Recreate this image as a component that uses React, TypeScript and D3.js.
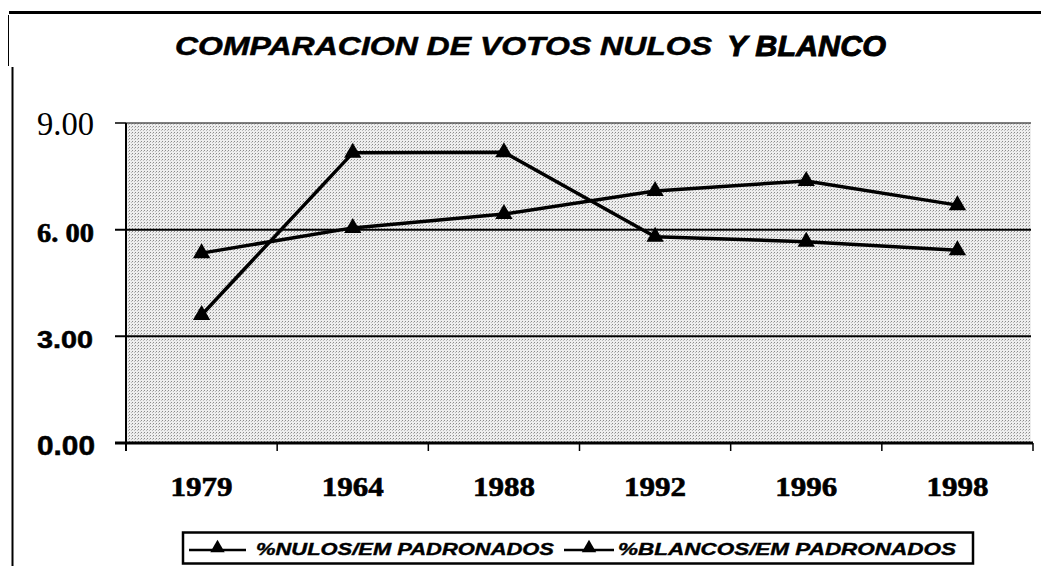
import * as d3 from 'd3';
import React from 'react';

// chart values
const years = ['1979', '1964', '1988', '1992', '1996', '1998'];
const nulos = [5.34, 6.05, 6.44, 7.09, 7.37, 6.69];
const blancos = [3.6, 8.16, 8.18, 5.8, 5.66, 5.42];
const yTicks = [9, 6, 3, 0];
const seriesNames = ['%NULOS/EM PADRONADOS', '%BLANCOS/EM PADRONADOS'];

const W = 1041;
const H = 566;
const plot = {left: 126, right: 1033, top: 123, bottom: 443};

const serif = '"Liberation Serif", "Times New Roman", serif';
const sans = '"Liberation Sans", Arial, sans-serif';
const narrow = '"Liberation Sans Narrow", "Liberation Sans", Arial, sans-serif';

// each y label was set in a different face in the original
const yLabelStyle: {[k: number]: any} = {
  9: {text: '9.00', font: serif, weight: 'normal', size: 33, len: 57, thick: 0},
  6: {text: '6. 00', font: serif, weight: 'bold', size: 27, len: 57, thick: 0.6},
  3: {text: '3.00', font: sans, weight: 'bold', size: 23, len: 56, thick: 0.5},
  0: {text: '0.00', font: narrow, weight: 'bold', size: 27, len: 58, thick: 0.5},
};

const x = d3.scaleBand<string>().domain(years).range([plot.left, plot.right]);
const y = d3.scaleLinear().domain([0, 9]).range([plot.bottom, plot.top]);
const cx = (yr: string) => (x(yr) as number) + x.bandwidth() / 2;

const line = d3.line<number>()
  .x((d, i) => cx(years[i]))
  .y(d => y(d));

const tri = d3.symbol().type(d3.symbolTriangle).size(130)();
const triSmall = d3.symbol().type(d3.symbolTriangle).size(90)();

function Series({values}: {values: number[]}) {
  return (
    <g>
      <path d={line(values) as string} fill="none" stroke="#000" strokeWidth={3.5} strokeLinejoin="round" />
      {values.map((v, i) => (
        <path key={i} d={tri as string} transform={`translate(${cx(years[i])},${y(v)})`} fill="#000" />
      ))}
    </g>
  );
}

export default function App() {
  const boundaries = years.map(yr => x(yr) as number).concat([plot.right]);
  return (
    <svg width={W} height={H} style={{position: 'absolute', left: 0, top: 0, display: 'block', background: '#fff'}}>
      <defs>
        <pattern id="dither" width={3} height={3} patternUnits="userSpaceOnUse">
          <rect width={3} height={3} fill="#eeeeee" />
          <rect x={0} y={0} width={1} height={1} fill="#8a8a8a" />
          <rect x={2} y={1} width={1} height={1} fill="#bbbbbb" />
        </pattern>
      </defs>

      {/* page frame */}
      <line x1={9} x2={W} y1={12.5} y2={12.5} stroke="#000" strokeWidth={3} />
      <line x1={8.5} x2={8.5} y1={15} y2={66} stroke="#000" strokeWidth={1} />
      <line x1={12.5} x2={12.5} y1={67} y2={H} stroke="#000" strokeWidth={2} />

      {/* title */}
      <g fontFamily={sans} fontWeight="bold" fontStyle="italic" stroke="#000" strokeWidth={0.5}>
        <text x={175} y={55} fontSize={25}
          textLength={537} lengthAdjust="spacingAndGlyphs">COMPARACION  DE  VOTOS  NULOS</text>
        <text x={727} y={56} fontSize={29} strokeWidth={0.9}
          textLength={159} lengthAdjust="spacingAndGlyphs">Y BLANCO</text>
      </g>

      {/* plot area */}
      <rect x={plot.left} y={plot.top} width={plot.right - plot.left - 2} height={plot.bottom - plot.top} fill="url(#dither)" />
      <line x1={plot.left} x2={plot.right - 2} y1={plot.top} y2={plot.top} stroke="#555" strokeWidth={1.5} />

      {yTicks.filter(t => t !== 0 && t !== 9).map(t => (
        <line key={t} x1={115} x2={plot.right - 2} y1={y(t)} y2={y(t)} stroke="#000" strokeWidth={2} />
      ))}
      <line x1={115} x2={plot.left} y1={y(9)} y2={y(9)} stroke="#000" strokeWidth={1.5} />

      <line x1={plot.left} x2={plot.left} y1={plot.top} y2={plot.bottom + 8} stroke="#000" strokeWidth={2} />
      <line x1={115} x2={plot.right} y1={plot.bottom} y2={plot.bottom} stroke="#000" strokeWidth={3} />
      {boundaries.slice(1).map((b, i) => (
        <line key={i} x1={b} x2={b} y1={plot.bottom} y2={plot.bottom + 8} stroke="#000" strokeWidth={1.5} />
      ))}

      {yTicks.map(t => {
        const s = yLabelStyle[t];
        return (
          <text key={t} x={37} y={y(t) + 12} fontFamily={s.font} fontWeight={s.weight} fontSize={s.size}
            stroke="#000" strokeWidth={s.thick}
            textLength={s.len} lengthAdjust="spacingAndGlyphs">{s.text}</text>
        );
      })}

      {years.map(yr => (
        <text key={yr} x={cx(yr)} y={496} textAnchor="middle" fontFamily={serif} fontWeight="bold" fontSize={27}
          stroke="#000" strokeWidth={0.6}
          textLength={62} lengthAdjust="spacingAndGlyphs">{yr}</text>
      ))}

      <Series values={nulos} />
      <Series values={blancos} />

      {/* legend */}
      <rect x={183} y={532.5} width={790} height={31} fill="#fff" stroke="#000" strokeWidth={2.5} />
      {[{x0: 189, x1: 246, tx: 256, len: 298}, {x0: 564, x1: 614, tx: 618, len: 338}].map((l, i) => (
        <g key={i}>
          <line x1={l.x0} x2={l.x1} y1={550} y2={550} stroke="#000" strokeWidth={2.5} />
          <path d={triSmall as string} transform={`translate(${(l.x0 + l.x1) / 2},${548})`} fill="#000" />
          <text x={l.tx} y={555} fontFamily={sans} fontWeight="bold" fontStyle="italic" fontSize={17}
            stroke="#000" strokeWidth={0.4}
            textLength={l.len} lengthAdjust="spacingAndGlyphs">{seriesNames[i]}</text>
        </g>
      ))}
    </svg>
  );
}
